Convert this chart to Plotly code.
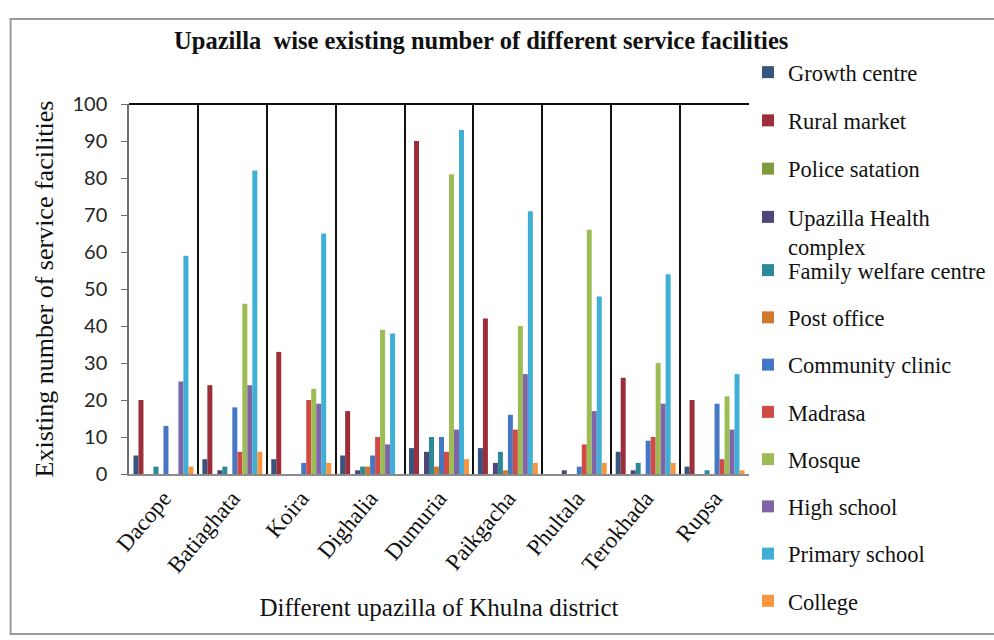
import plotly.graph_objects as go

# Upazillas of Khulna district (x categories)
upazillas = ["Dacope", "Batiaghata", "Koira", "Dighalia", "Dumuria",
             "Paikgacha", "Phultala", "Terokhada", "Rupsa"]

# Number of each service facility per upazilla
growth_centre = [5, 4, 4, 5, 7, 7, 0, 6, 2]
rural_market = [20, 24, 33, 17, 90, 42, 0, 26, 20]
police_station = [0, 0, 0, 0, 0, 0, 0, 0, 0]
health_complex = [0, 1, 0, 1, 6, 3, 1, 1, 0]
family_welfare = [2, 2, 0, 2, 10, 6, 0, 3, 1]
post_office = [0, 0, 0, 2, 2, 1, 0, 0, 0]
community_clinic = [13, 18, 3, 5, 10, 16, 2, 9, 19]
madrasa = [0, 6, 20, 10, 6, 12, 8, 10, 4]
mosque = [0, 46, 23, 39, 81, 40, 66, 30, 21]
high_school = [25, 24, 19, 8, 12, 27, 17, 19, 12]
primary_school = [59, 82, 65, 38, 93, 71, 48, 54, 27]
college = [2, 6, 3, 0, 4, 3, 3, 3, 1]

series_names = ["Growth centre", "Rural market", "Police satation",
                "Upazilla Health<br>complex", "Family welfare centre",
                "Post office", "Community clinic", "Madrasa", "Mosque",
                "High school", "Primary school", "College"]
series_values = [growth_centre, rural_market, police_station, health_complex,
                 family_welfare, post_office, community_clinic, madrasa,
                 mosque, high_school, primary_school, college]
series_colors = ["#36557F", "#9C2E3A", "#7D9A3C", "#4E4678", "#2C8A96",
                 "#D0782E", "#4478C4", "#D24A45", "#9CBD55", "#8064A8",
                 "#40AFD6", "#F7963F"]

# plot-area geometry in pixels (used to place paper-referenced items)
L, R, T, B = 128.5, 749.0, 104.0, 474.0
W, H = 994, 640


def px_x(p):
    return (p - L) / (R - L)


def px_y(p):
    return (B - p) / (B - T)


SERIF = "Liberation Serif, Times New Roman, serif"
SANS = "Lato, Open Sans, sans-serif"

fig = go.Figure()
for i, (name, vals, col) in enumerate(zip(series_names, series_values, series_colors)):
    fig.add_trace(go.Bar(
        x=upazillas, y=vals, name=name,
        marker=dict(color=col, line=dict(width=0)),
        legendgroup=f"g{i}",
        legend="legend" if i < 4 else "legend2",
    ))

legend_common = dict(
    font=dict(family=SERIF, size=22.5, color="#111111"),
    bgcolor="rgba(0,0,0,0)", borderwidth=0,
    traceorder="grouped",
    xanchor="left", yanchor="top", valign="top",
    itemclick=False, itemdoubleclick=False,
    maxheight=640,
)

fig.update_layout(
    width=W, height=H,
    margin=dict(l=L, r=W - R, t=T, b=H - B, autoexpand=False),
    paper_bgcolor="white", plot_bgcolor="white",
    barmode="group", bargap=0.13, bargroupgap=0,
    title=dict(
        text="<b>Upazilla  wise existing number of different service facilities</b>",
        font=dict(family=SERIF, size=24.5, color="#111111"),
        xref="paper", x=px_x(481), xanchor="center",
        yref="container", y=1 - 40 / H, yanchor="middle",
    ),
    legend=dict(x=px_x(748), y=px_y(51), tracegroupgap=16, **legend_common),
    legend2=dict(x=px_x(748), y=px_y(249), tracegroupgap=15, **legend_common),
    xaxis=dict(
        type="category",
        tickson="boundaries",
        showgrid=True, gridcolor="#111111", gridwidth=2,
        showline=True, linecolor="#8c8c8c", linewidth=1.5,
        ticks="", tickangle=-50,
        tickfont=dict(family=SERIF, size=23, color="#111111"),
        title=dict(text="Different upazilla of Khulna district",
                   font=dict(family=SERIF, size=25, color="#111111"),
                   standoff=22),
        automargin=False,
    ),
    yaxis=dict(
        range=[0, 100], dtick=10,
        showgrid=False, zeroline=False,
        showline=True, linecolor="#6e6e6e", linewidth=1.5,
        ticks="outside", ticklen=6, tickcolor="#6e6e6e",
        ticklabelstandoff=10,
        tickfont=dict(family=SANS, size=20, color="#262626"),
        title=dict(text="Existing number of service facilities",
                   font=dict(family=SERIF, size=26, color="#111111"),
                   standoff=11),
        automargin=False,
    ),
    shapes=[
        # top edge of the plot frame
        dict(type="line", xref="paper", yref="paper", x0=0, x1=1, y0=1, y1=1,
             line=dict(color="#111111", width=2)),
        # outer border around the chart
        dict(type="rect", xref="paper", yref="paper",
             x0=px_x(10), x1=px_x(1010), y0=px_y(634), y1=px_y(19),
             line=dict(color="#9a9a9a", width=2), layer="below"),
    ],
)

fig.write_html("out.html")
